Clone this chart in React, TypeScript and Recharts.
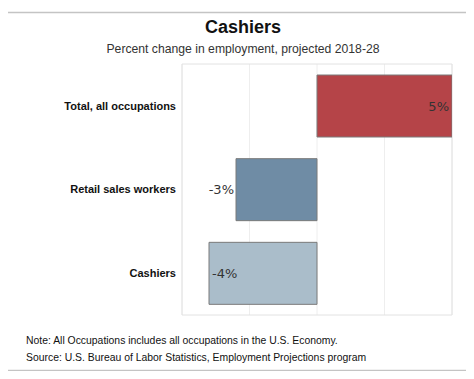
import { BarChart, Bar, XAxis, YAxis, Cell, LabelList, CartesianGrid, ReferenceArea } from "recharts";

const occupations = ["Total, all occupations", "Retail sales workers", "Cashiers"];
const change = [5, -3, -4];
const colors = ["#B54448", "#6F8CA5", "#AABDCA"];
const xTicks = [-5, -2.5, 0, 2.5, 5];
const footnotes = [
  "Note: All Occupations includes all occupations in the U.S. Economy.",
  "Source: U.S. Bureau of Labor Statistics, Employment Projections program",
];

const data = occupations.map((name, i) => ({ name, value: change[i] }));

const BarLabel = (props: any) => {
  const { x, y, width, height, value, index } = props;
  const left = Math.min(x, x + width);
  const right = Math.max(x, x + width);
  const cy = y + height / 2;
  let tx = right - 3;
  let anchor = "end";
  if (index === 1) {
    tx = left - 2;
    anchor = "end";
  } else if (index === 2) {
    tx = left + 3;
    anchor = "start";
  }
  return (
    <text x={tx} y={cy} dy="0.35em" textAnchor={anchor} fontSize={13} fill="#333" fontFamily="'DejaVu Sans', sans-serif">
      {value}%
    </text>
  );
};

export default function App() {
  return (
    <div style={{ position: "relative", margin: -8, width: 474, height: 379, background: "#fff", overflow: "hidden" }}>
      <svg width={474} height={379} style={{ position: "absolute", left: 0, top: 0 }}>
        <rect x={4.5} y={12.5} width={463} height={358} fill="none" stroke="#c4c4c4" strokeWidth={1.5} />
      </svg>
      <div
        style={{
          position: "absolute",
          left: 0,
          width: 486,
          top: 17,
          textAlign: "center",
          fontFamily: "'Liberation Sans', Arial, sans-serif",
          fontWeight: "bold",
          fontSize: 18,
          color: "#111",
        }}
      >
        Cashiers
      </div>
      <div
        style={{
          position: "absolute",
          left: 0,
          width: 486,
          top: 42,
          textAlign: "center",
          fontFamily: "'Liberation Sans', Arial, sans-serif",
          fontSize: 12.2,
          color: "#333",
        }}
      >
        Percent change in employment, projected 2018-28
      </div>
      <div style={{ position: "absolute", left: 0, top: 0 }}>
        <BarChart
          layout="vertical"
          width={474}
          height={379}
          data={data}
          margin={{ top: 64, right: 22, bottom: 64, left: 0 }}
        >
          <CartesianGrid horizontal={false} stroke="#eeeeee" />
          <ReferenceArea x1={-5} x2={5} fill="none" stroke="#e2e2e2" strokeWidth={1} ifOverflow="visible" />
          <XAxis type="number" domain={[-5, 5]} ticks={xTicks} hide allowDataOverflow />
          <YAxis
            type="category"
            dataKey="name"
            width={182}
            axisLine={false}
            tickLine={false}
            tickSize={0}
            tickMargin={6}
            tick={{ fontSize: 11, fontWeight: "bold", fill: "#111", fontFamily: "'Liberation Sans', Arial, sans-serif" }}
          />
          <Bar dataKey="value" isAnimationActive={false} stroke="#7a7a7a" strokeWidth={1} barSize={62}>
            {data.map((d, i) => (
              <Cell key={d.name} fill={colors[i]} />
            ))}
            <LabelList dataKey="value" content={<BarLabel />} />
          </Bar>
        </BarChart>
      </div>
      {footnotes.map((t, i) => (
        <div
          key={t}
          style={{
            position: "absolute",
            left: 26,
            top: 335 + i * 17,
            fontFamily: "'Liberation Sans', Arial, sans-serif",
            fontSize: 10.4,
            color: "#111",
            whiteSpace: "nowrap",
          }}
        >
          {t}
        </div>
      ))}
    </div>
  );
}
